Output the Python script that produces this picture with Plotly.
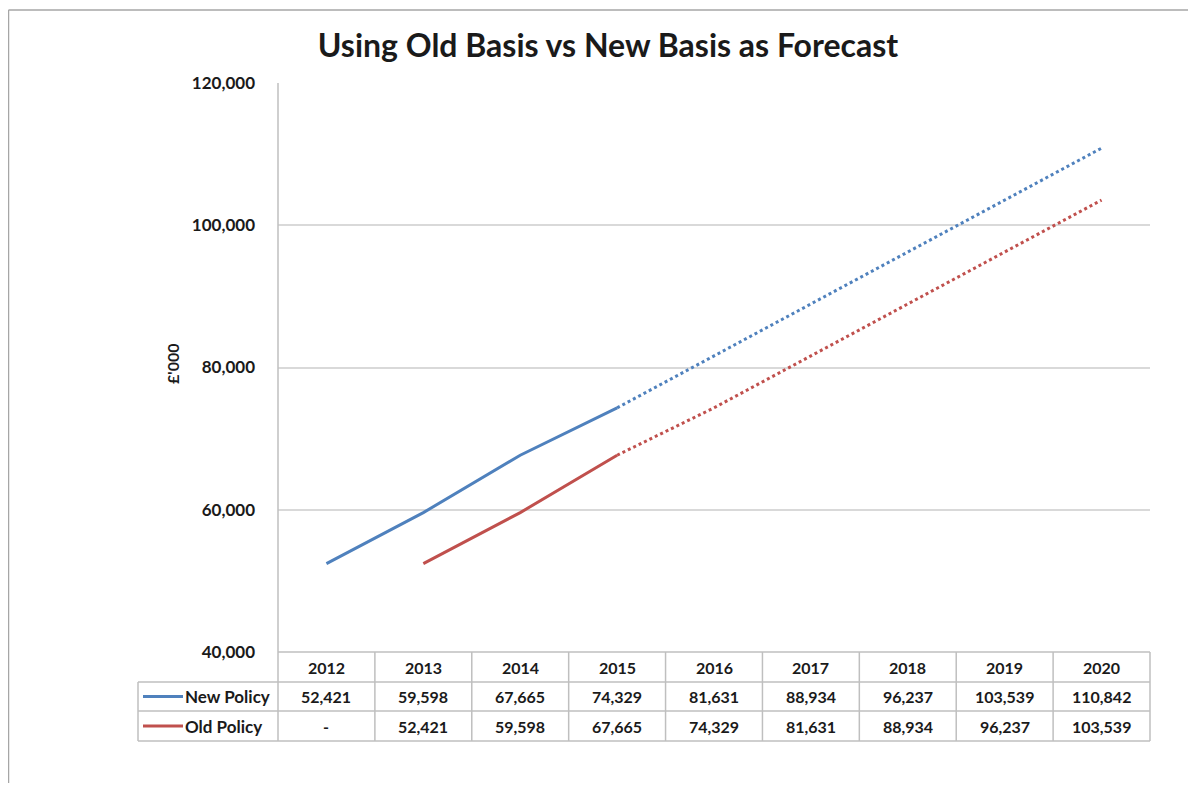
import plotly.graph_objects as go

years = ["2012", "2013", "2014", "2015", "2016", "2017", "2018", "2019", "2020"]
new_policy = [52421, 59598, 67665, 74329, 81631, 88934, 96237, 103539, 110842]
old_policy = [None, 52421, 59598, 67665, 74329, 81631, 88934, 96237, 103539]
series_names = ["New Policy", "Old Policy"]
actual_last = 3  # index of 2015: solid up to here, dotted forecast afterwards
y_ticks = [40000, 60000, 80000, 100000, 120000]

BLUE = "#4F81BD"
RED = "#C0504D"

# page is 1196x791 with an 8px body margin -> figure fits in 1180x775
OFF = 8
W, H = 1196 - 2 * OFF, 791 - 2 * OFF

# layout (page pixels of the reference)
PL, PR, PT, PB = 278, 1150, 83, 652
ROWS = [652, 682, 711, 741]
LEG_L = 138

def px(x):
    return (x - OFF) / W

def py(y):
    return 1 - (y - OFF) / H

n = len(years)
xs = list(range(n))

fig = go.Figure()

def add_series(vals, color):
    solid_x = [x for x in xs if x <= actual_last and vals[x] is not None]
    solid_y = [vals[x] for x in solid_x]
    dot_x = [x for x in xs if x >= actual_last and vals[x] is not None]
    dot_y = [vals[x] for x in dot_x]
    fig.add_trace(go.Scatter(x=solid_x, y=solid_y, mode="lines",
                             line=dict(color=color, width=3), showlegend=False,
                             hoverinfo="skip"))
    fig.add_trace(go.Scatter(x=dot_x, y=dot_y, mode="lines",
                             line=dict(color=color, width=3, dash="3px,3px"),
                             showlegend=False, hoverinfo="skip"))

add_series(new_policy, BLUE)
add_series(old_policy, RED)

FONT = "Lato, Calibri, Arial, sans-serif"
GRID = "#D9D9D9"
BORDER = "#BFBFBF"
TXT = "#1a1a1a"

shapes = []
annotations = []

# outer frame (cropped screenshot: only left and top edges visible)
shapes.append(dict(type="line", xref="paper", yref="paper", x0=px(8.5), x1=1.01,
                   y0=py(10), y1=py(10), line=dict(color="#A6A6A6", width=1.5)))
shapes.append(dict(type="line", xref="paper", yref="paper", x0=px(8.5), x1=px(8.5),
                   y0=-0.02, y1=py(10), line=dict(color="#A6A6A6", width=1.5)))

# table grid
colw = (PR - PL) / n
shapes.append(dict(type="line", xref="paper", yref="paper", x0=px(PL), x1=px(PR),
                   y0=py(ROWS[0]), y1=py(ROWS[0]), line=dict(color=BORDER, width=1.5)))
for r in ROWS[1:]:
    shapes.append(dict(type="line", xref="paper", yref="paper", x0=px(LEG_L), x1=px(PR),
                       y0=py(r), y1=py(r), line=dict(color=BORDER, width=1.5)))
shapes.append(dict(type="line", xref="paper", yref="paper", x0=px(LEG_L), x1=px(LEG_L),
                   y0=py(ROWS[1]), y1=py(ROWS[3]), line=dict(color=BORDER, width=1.5)))
shapes.append(dict(type="line", xref="paper", yref="paper", x0=px(PL), x1=px(PL),
                   y0=py(PT), y1=py(ROWS[3]), line=dict(color=BORDER, width=1.5)))
for k in range(1, n + 1):
    xx = PL + k * colw
    shapes.append(dict(type="line", xref="paper", yref="paper", x0=px(xx), x1=px(xx),
                       y0=py(ROWS[0]), y1=py(ROWS[3]), line=dict(color=BORDER, width=1.5)))

cell_font = dict(family=FONT, size=16, color=TXT, weight="bold")
leg_font = dict(family=FONT, size=17, color=TXT, weight="bold")

# header row and values
for i, yr in enumerate(years):
    annotations.append(dict(x=i, y=py((ROWS[0] + ROWS[1]) / 2), xref="x", yref="paper",
                            text=yr, showarrow=False, font=cell_font,
                            xanchor="center", yanchor="middle"))
for row_i, (vals, color, name) in enumerate([(new_policy, BLUE, series_names[0]),
                                            (old_policy, RED, series_names[1])]):
    yc = (ROWS[row_i + 1] + ROWS[row_i + 2]) / 2
    for i, v in enumerate(vals):
        txt = f"{v:,}" if v is not None else "-"
        annotations.append(dict(x=i, y=py(yc), xref="x", yref="paper", text=txt,
                                showarrow=False, font=cell_font,
                                xanchor="center", yanchor="middle"))
    annotations.append(dict(x=px(LEG_L + 45), y=py(yc), xref="paper", yref="paper",
                            text=name, showarrow=False, xanchor="left", yanchor="middle",
                            font=leg_font))
    shapes.append(dict(type="line", xref="paper", yref="paper", x0=px(LEG_L + 5),
                       x1=px(LEG_L + 45), y0=py(yc), y1=py(yc),
                       line=dict(color=color, width=3)))

# y-axis title
annotations.append(dict(x=px(172), y=py(364), xref="paper", yref="paper", text="£'000",
                        textangle=-90, showarrow=False, xanchor="center", yanchor="middle",
                        font=dict(family=FONT, size=16, color=TXT, weight="bold")))

fig.update_layout(
    width=W, height=H,
    margin=dict(l=0, r=0, t=0, b=0, autoexpand=False),
    paper_bgcolor="white", plot_bgcolor="white",
    title=dict(text="Using Old Basis vs New Basis as Forecast", x=px(608), xanchor="center",
               y=py(46), yanchor="middle", automargin=False,
               font=dict(family=FONT, size=32, color=TXT, weight="bold")),
    xaxis=dict(domain=[px(PL), px(PR)], range=[-0.5, n - 0.5], showticklabels=False,
               showgrid=False, zeroline=False, showline=False, fixedrange=True,
               automargin=False),
    yaxis=dict(domain=[py(PB), py(PT)], range=[40000, 120000], tickvals=y_ticks,
               tickformat=",", showgrid=True, gridcolor=GRID, gridwidth=1.5,
               zeroline=False, showline=False, ticks="", ticklabelstandoff=22,
               tickfont=dict(family=FONT, size=17, color=TXT, weight="bold"),
               fixedrange=True, automargin=False),
    shapes=shapes,
    annotations=annotations,
    hovermode=False,
)

fig.write_html("out.html")
